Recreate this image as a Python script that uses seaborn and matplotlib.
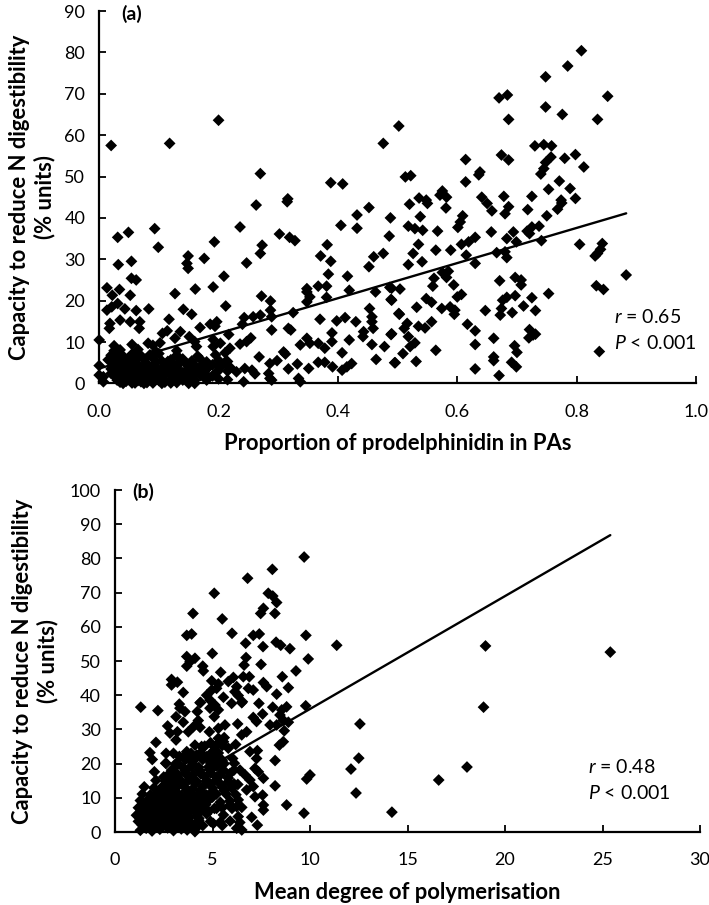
import matplotlib
matplotlib.use('Agg')
import matplotlib.pyplot as plt
import pandas as pd
import seaborn as sns

# Panel (a): scattered points
a_x_upper = [.02, .118, .2, .27, .316, .388, .408, .476, .502, .808, .785, .748, .852, .684, .67, .748, .776, .686, .835,
             .73, .745, .758, .674, .686, .614, .798, .78, .757, .748, .745, .74, .812, .638, .636, .513, .522, .614,
             .771, .753, .789, .575, .571, .582, .536, .548, .641, .678, .725, .774, .798]
a_y_upper = [57.5, 58, 63.6, 50.7, 44.6, 48.5, 48.2, 58, 62.2, 80.4, 76.7, 74.1, 69.4, 69.7, 69, 66.8, 65, 63.8, 63.8,
             57.4, 57.7, 57.4, 55.2, 54, 54.1, 55.3, 54.4, 54.7, 53.4, 51.9, 50.6, 52.3, 51.1, 50.4, 49.9, 50.2, 48.7,
             48.9, 46.9, 47.1, 46.5, 45.5, 45, 44.8, 44.3, 45, 45.2, 45.2, 44.3, 44.7]

a_x_right = [.52, .55, .581, .65, .658, .68, .686, .718, .75, .768, .775, .538, .609, .605, .601, .518, .529, .542, .567,
             .657, .694, .717, .725, .737, .721, .683, .699, .741, .63, .619, .607, .805, .843, .84, .835, .831,
             .535, .564, .589, .526, .541, .518, .666, .68, .615, .63, .683, .575, .585, .582, .561, .559, .594,
             .883, .671, .697, .707, .707, .833, .845, .753, .504, .49, .607, .6, .697, .683, .676, .725,
             .548, .557, .49, .532, .574, .588, .596, .595, .647, .674, .672, .711, .692, .731,
             .503, .516, .511, .535, .546, .557, .617, .63, .721, .727, .72, .731,
             .49, .518, .529, .521, .564, .63, .661, .696, .7, .509, .495, .531, .661, .661, .691, .699, .63, .67, .838]
a_y_right = [43.3, 43.5, 42.4, 43.5, 41.7, 41, 42.7, 42, 40.5, 42.1, 43.6, 40.3, 40.5, 39, 37.7, 38, 37.4, 37, 36.8,
             36.6, 36.6, 36.8, 37.8, 38, 36.2, 35, 34.2, 34.5, 35.3, 34.2, 33.6, 33.6, 33.8, 32.4, 31.4, 30.8,
             33.6, 32.2, 32.2, 31.4, 29.4, 28.7, 31.6, 31.8, 31, 29, 30.4, 26.8, 27.1, 25.6, 25.4, 23.5, 23.8,
             26.2, 24.8, 25.6, 25, 23.8, 23.6, 22.7, 21.7, 22.8, 23, 21.5, 20.9, 21.2, 20.8, 20.1, 20.7,
             20.5, 19.6, 20.1, 18.4, 18.1, 18.5, 17.7, 16.7, 17.6, 18.1, 16.5, 18.7, 17.1, 17.6,
             16.7, 14.5, 13.3, 13.8, 13.4, 14.9, 14.3, 12.7, 13, 11.7, 11, 11.9,
             12, 11.3, 9.8, 8.9, 8, 9.4, 10.9, 9.1, 7.5, 7.2, 5, 5.3, 6.4, 5.5, 5.1, 4, 3.5, 1.9, 7.7]

a_x_left = [.263, .315, .452, .432, .488, .049, .031, .093, .099, .236, .193, .302, .319, .328, .405, .432, .486,
            .273, .27, .382, .371, .388, .476, .46, .452, .149, .147, .149, .176, .032, .054, .247,
            .209, .384, .416, .054, .062, .191, .161, .013, .034, .127, .052, .022,
            .348, .348, .353, .348, .367, .381, .381, .419, .463, .487, .489,
            .272, .287, .287, .289, .212, .325, .453, .457, .457, .502,
            .031, .013, .021, .043, .062, .083, .141, .155, .117, .068, .018, .035, .017, .052, .067,
            .243, .258, .27, .24, .197, .186, .194, .169, .37, .398, .412, .43,
            .114, .106, .136, .127, .102, .082, .151, .16, .163, .217,
            .289, .317, .321, .39, .39, .443, .442, .459, .489, .419, .457, .478,
            .254, .247, .236, .191, .191, .219, .211, .203,
            .337, .348, .353, .367, .378, .309, .312, .407, .464, .496,
            .268, .298, .286, .332, .317, .351, .367, .378, .391, .423, .415, .407,
            .23, .244, .256, .261, .284, .286, .242, .334, .337, .289, 0, 0, 0, .007, .007]
a_y_left = [43.1, 43.9, 42.5, 40.7, 40, 36.5, 35.3, 37.4, 32.9, 37.8, 34.2, 36.1, 35.3, 34.5, 38.2, 37.5, 35.6,
            33.4, 31.4, 33.5, 30.8, 29.5, 31.4, 30.6, 28.2, 30.8, 29, 27.8, 30.2, 28.7, 29.5, 29.1,
            25.9, 26.4, 25.9, 25.4, 25, 23.3, 22.8, 23.1, 22.7, 21.7, 21.3, 21.3,
            22.9, 22.1, 20.9, 19.7, 23.5, 23.5, 20.8, 22.5, 22.1, 23.2, 20.3,
            21.1, 19.9, 17.7, 16.1, 18.7, 17.1, 18.1, 16.1, 14.9, 16.9,
            19.3, 17.7, 18.5, 18, 17.6, 18, 17.9, 16.7, 15.5, 14.9, 14.5, 15.3, 13.3, 14.9, 13.3,
            15.9, 16.1, 16.5, 14.3, 14.9, 14.3, 13.8, 13.5, 15.5, 15.1, 15.9, 14.9,
            12.7, 12.1, 12.5, 10.9, 9.8, 9.7, 11.3, 10.1, 8.9, 11.8,
            12.9, 13.3, 12.9, 12.2, 10.1, 12.5, 11.3, 13.3, 11.8, 10.5, 9.4, 8.9,
            11, 10.1, 9.5, 10.6, 8.9, 8.5, 7.4, 9.7,
            9.3, 10.9, 9.7, 9.7, 8.5, 7.6, 7.1, 7.4, 5.8, 5,
            6.4, 5.5, 4.8, 4.7, 3.5, 3.6, 5.1, 5.1, 4, 4.8, 4, 3.2,
            2.8, 3.6, 3.2, 2.3, 2.4, 1.2, .4, 1.2, .4, .8, 10.5, 4.3, 2, 1.6, .4]

# dense cluster near the origin
a_x_dense = [.025, .055, .09,
             .025, .035, .065, .095, .13,
             .02, .03, .04, .055, .07, .085, .1, .13, .165, .195,
             .015, .03, .04, .05, .06, .075, .09, .105, .12, .14, .17, .2, .215,
             .025, .035, .045, .055, .065, .08, .095, .11, .125, .145, .16, .175, .19, .205,
             .02, .03, .04, .05, .06, .07, .085, .1, .115, .13, .15, .165, .18, .2, .215,
             .02, .03, .04, .05, .065, .08, .095, .11, .125, .14, .16, .18, .195,
             .03, .04, .05, .06, .075, .09, .105, .125, .155,
             .035, .045, .06, .07, .08, .09, .11, .13,
             .03, .05, .07, .09, .11, .13,
             .025, .045, .065, .09, .105, .125, .145, .175,
             .025, .045, .06, .075, .09, .105, .12, .135, .15, .17, .19,
             .03, .05, .065, .08, .1, .12, .14, .16, .18,
             .04, .055, .075, .09, .105, .12, .15, .16,
             .115, .135, .155, .18, .21,
             .15, .17, .2, .22,
             .2, .215]
a_y_dense = [9.1, 9.4, 9.2,
             7.9, 8.1, 8.2, 7.7, 7.9,
             6.8, 7.0, 6.6, 7.1, 6.7, 6.9, 7.2, 6.8, 6.6, 6.9,
             5.7, 5.9, 5.5, 6.0, 5.6, 5.8, 6.1, 5.4, 5.7, 5.9, 5.8, 5.6, 5.3,
             4.6, 4.8, 4.4, 4.9, 4.5, 4.7, 5.0, 4.3, 4.6, 4.8, 4.4, 4.7, 4.5, 4.2,
             3.5, 3.7, 3.3, 3.8, 3.4, 3.6, 3.9, 3.2, 3.5, 3.7, 3.3, 3.6, 3.4, 3.1, 3.0,
             2.4, 2.6, 2.2, 2.7, 2.3, 2.5, 2.8, 2.1, 2.4, 2.6, 2.2, 2.0, 2.5,
             1.3, 1.5, 1.1, 1.6, 1.2, 1.4, 1.0, 1.3, .9,
             .3, .5, .1, .4, .2, .5, .3, .2,
             4.1, 4.2, 3.9, 4.0, 4.2, 4.1,
             3.0, 2.9, 3.1, 3.0, 2.8, 3.1, 2.9, 3.0,
             1.9, 2.0, 1.8, 1.9, 2.1, 1.8, 2.0, 1.9, 1.7, 1.9, 1.8,
             .8, .9, .7, .8, .7, .9, .8, .7, .8,
             0, .1, 0, .1, 0, .1, 0, 0,
             5.3, 5.1, 5.4, 5.2, 5.0,
             4.0, 3.9, 4.1, 3.8,
             1.1, .9]

a_line_x = [0, .883]
a_line_y = [3.6, 41.1]

# Panel (b)
b_x_upper = [9.7, 6.8, 5.09, 7.86, 8.09, 8.29, 7.61, 7.47, 8.2, 4, 5.5, 8.07,
             6, 7.09, 7.4, 9.79, 3.68, 3.93, 6.7, 8.26, 8.5, 11.37, 7.59, 8.97,
             4.99, 3.68, 4.1, 6.72, 9.91, 3.85, 3.68, 4.5, 4.53, 7.49, 6.62, 9.28,
             5.42, 2.9, 3.2, 2.9, 8.58, 6.89, 6.58, 6.07, 5.81, 4.96, 5.3, 5.21, 4.96,
             7.61, 7.78, 8.89, 6.24, 6.15, 6.84, 7.09, 3.5, 8.29, 4.7, 6.32, 5.56, 4.87, 4.39, 6.53,
             12.56, 12.5, 12.1, 12.36, 14.2, 16.6, 18.05, 19, 18.9, 25.4]
b_y_upper = [80.4, 74.2, 69.8, 69.8, 69, 67.1, 65.4, 63.9, 63.9, 63.9, 62.3, 76.8,
             58.1, 57.5, 57.9, 57.5, 57.5, 57.9, 55.2, 55.5, 54.6, 54.6, 54.2, 53.6,
             52.2, 51.3, 50.8, 51, 50.6, 49.8, 48.5, 48.5, 47.1, 49, 48.8, 47.1,
             46.7, 44.6, 43.8, 43, 45.4, 45.4, 45.4, 45.2, 44, 44.2, 43.3, 42, 41.5,
             43.7, 42.5, 42.2, 42.5, 41, 42, 41.5, 40.8, 40.3, 40, 39.9, 39.4, 38.6, 37.9, 38.1,
             31.6, 21.6, 18.4, 11.4, 5.8, 15.2, 19, 54.4, 36.5, 52.6]

b_x_mid = [1.32, 2.2, 3.3, 3.33, 3.13, 4.22, 3.59, 4.36, 5.13, 4.87, 5.09, 5.3, 5.98, 6.5, 7.38, 8.09, 8.55, 8.8, 9.78,
           7.57, 7.09, 7.26, 8.46, 8.63, 8.89, 7.95, 8.29, 8.68,
           2.7, 2.82, 3.5, 3.13, 3.2, 3.76, 4.03, 4.27, 4.36, 4.84, 5.3, 5.64, 6.29, 6.75, 6.5,
           2.1, 1.79, 1.91, 2.62, 2.62, 2.02, 3,
           8.63, 8.43, 6.19, 5.56, 5.3, 5.81, 5.13, 4.1, 3.68, 3.5, 4.44,
           6.92, 7.3, 7.26, 8.21, 6.03, 6.12, 4.7, 5.38, 4.19, 3.85,
           10, 9.83, 8.21, 8.8, 9.69, 7.61, 7.35, 7.18, 6.41, 6.67, 5.81, 5.56, 6.92, 7.09,
           7.57, 7.18, 7.61, 7.61, 7.01, 7.3, 6.32, 6.75, 6.24, 6.5, 5.5, 6.32, 6.24, 5.04, 5.21, 5.56, 5.9, 4.27, 4.1]
b_y_mid = [36.5, 35.5, 37.4, 36.2, 33.7, 35.2, 35.2, 37.8, 37.1, 36.2, 33.7, 35.7, 37.6, 37.8, 37.6, 36.5, 35.7, 36.6, 36.9,
           34.5, 33.5, 32.3, 34.2, 32.7, 32.1, 31.3, 31.3, 29.6,
           31, 28.9, 32.1, 26.9, 29.3, 29.3, 30.8, 32.6, 30.6, 29.3, 30.3, 31.3, 31.6, 29.3, 28.4,
           26.2, 23.2, 21.2, 23, 20.1, 17.6, 23,
           26.4, 25.4, 25.6, 26.4, 25.9, 24.5, 23.5, 25.4, 23.5, 22, 25,
           23.5, 23.8, 21.5, 20.9, 21.5, 20.1, 22, 21, 22.5, 21,
           16.7, 15.5, 13.5, 7.9, 5.5, 15.7, 17.6, 18.6, 18.1, 16.7, 14.7, 18.1, 15.2, 13.3,
           10.8, 10.3, 7.9, 6.4, 4.3, 2, 9.4, 12.3, 1.1, .6, 1.9, 4.5, 7.4, 2.5, 6.9, 5, 7.9, 1.8, .1]

b_x_dense = [1.3, 1.6, 1.9, 2.3, 2.7, 3.0, 3.4, 3.7, 4.1,
             1.2, 1.5, 1.8, 2.1, 2.4, 2.8, 3.1, 3.5, 3.9, 4.3,
             1.1, 1.4, 1.7, 2.0, 2.3, 2.6, 2.9, 3.3, 3.7, 4.2, 4.7,
             1.2, 1.5, 1.8, 2.2, 2.5, 2.9, 3.2, 3.6, 4.0, 4.5, 5.1,
             1.3, 1.6, 2.0, 2.4, 2.7, 3.1, 3.5, 3.9, 4.4, 4.8, 5.4, 5.9,
             1.4, 1.8, 2.2, 2.6, 3.0, 3.4, 3.8, 4.3, 4.7, 5.2,
             1.5, 2.0, 2.4, 2.8, 3.2, 3.6, 4.0, 4.5, 5.0, 5.5, 6.0,
             2.1, 2.6, 3.0, 3.4, 3.8, 4.2, 4.7, 5.2,
             2.8, 3.2, 3.6, 4.0, 4.4, 4.9, 5.4, 5.9,
             3.1, 3.5, 3.9, 4.3, 4.8, 5.2,
             3.6, 4.0, 4.5, 5.0, 5.5,
             3.9, 4.4, 4.9, 5.3,
             4.6, 5.1, 5.5,
             1.4, 1.75, 2.05, 2.45, 2.85, 3.25, 3.65, 4.0, 4.5,
             1.3, 1.6, 1.95, 2.25, 2.6, 3.0, 3.4, 3.8, 4.3,
             1.35, 1.7, 2.05, 2.4, 2.75, 3.1, 3.45, 3.85, 4.3, 4.8,
             1.45, 1.85, 2.2, 2.6, 3.0, 3.35, 3.75, 4.15, 4.65,
             1.9, 2.4, 2.85, 3.25, 3.65, 4.1, 4.55, 5.0,
             2.5, 3.1, 3.7, 4.4, 5.0, 5.6,
             3.0, 3.5, 4.1, 4.9, 5.45, 6.1,
             3.2, 3.95, 4.6, 5.2, 5.8,
             2.9, 3.6, 4.3, 4.9, 5.5, 6.1,
             3.2, 4.0, 4.9, 5.6,
             3.3, 4.2, 5.15,
             4.9, 5.4, 5.3, 5.6,
             4.9, 5.4, 5.9, 6.4,
             5.5, 6.0, 6.5,
             5.7, 6.2,
             2.5, 2.9,
             2.6, 3.1,
             5.9, 6.3]
b_y_dense = [.5, 1.1, .3, .8, 1.2, .4, .9, .6, 1.0,
             3.1, 2.7, 3.3, 2.9, 2.6, 3.2, 2.8, 3.0, 2.5, 3.4,
             4.9, 5.3, 4.7, 5.2, 4.8, 5.4, 5.0, 4.6, 5.1, 4.8, 5.3,
             7.1, 6.8, 7.3, 6.9, 7.2, 6.7, 7.0, 7.4, 6.8, 7.1, 6.9,
             9.2, 8.9, 9.1, 8.7, 9.3, 9.0, 8.8, 9.2, 8.9, 9.3, 8.7, 9.1,
             11.1, 10.8, 11.2, 10.9, 11.3, 10.7, 11.0, 11.2, 10.8, 11.1,
             13.2, 12.9, 13.1, 12.8, 13.3, 13.0, 12.7, 13.2, 12.9, 13.1, 12.8,
             15.1, 14.8, 15.2, 14.9, 15.3, 14.7, 15.0, 15.2,
             17.1, 16.9, 17.2, 16.8, 17.0, 17.3, 16.7, 17.1,
             19.1, 18.8, 19.2, 18.9, 19.0, 19.3,
             21.1, 20.9, 21.2, 20.8, 21.0,
             23.0, 23.2, 22.9, 23.1,
             25.1, 24.9, 25.3,
             2.0, 1.8, 2.1, 1.9, 2.2, 1.8, 2.0, 2.1, 1.9,
             4.1, 3.9, 4.2, 4.0, 3.8, 4.1, 3.9, 4.2, 4.0,
             6.1, 5.9, 6.2, 5.8, 6.0, 6.2, 5.9, 6.1, 5.8, 6.0,
             8.1, 7.9, 8.2, 7.8, 8.0, 8.1, 7.9, 8.2, 8.0,
             10.1, 9.9, 10.2, 9.8, 10.0, 10.1, 9.9, 10.2,
             12.1, 11.9, 12.2, 12.0, 11.8, 12.1,
             14.1, 13.9, 14.2, 14.0, 13.8, 14.1,
             16.1, 15.9, 16.2, 16.0, 15.8,
             18.1, 17.9, 18.2, 18.0, 17.8, 18.1,
             20.1, 19.9, 20.2, 20.0,
             22.1, 21.9, 22.0,
             26.1, 25.9, 27.4, 27.6,
             3.1, 2.9, 3.2, 2.8,
             7.1, 6.9, 7.2,
             11.1, 10.9,
             16.1, 15.9,
             20.1, 19.9,
             14.1, 13.9]

b_line_x = [1.1, 25.4]
b_line_y = [6.6, 86.8]

sns.set_theme(style='ticks')
plt.rcParams['font.family'] = ['Lato', 'DejaVu Sans']
plt.rcParams['mathtext.fontset'] = 'custom'
plt.rcParams['mathtext.it'] = 'Lato:italic'
plt.rcParams['mathtext.rm'] = 'Lato'

W, H = 709, 905
fig = plt.figure(figsize=(W / 100, H / 100), dpi=100, facecolor='white')


def make_axes(left, right, top, bottom):
    """Axes from pixel edges of the figure"""
    return fig.add_axes([left / W, 1 - bottom / H, (right - left) / W, (bottom - top) / H])


def draw_panel(ax, xs, ys, line_x, line_y, xlim, ylim, xticks, yticks, fmt, xlabel, label_x, tag, tag_pos, r_text, r_pos, p_pos):
    df = pd.DataFrame({'x': xs, 'y': ys})
    sns.scatterplot(data=df, x='x', y='y', ax=ax, marker='D', s=36, color='black',
                    edgecolor='none', linewidth=0, clip_on=False, zorder=3)
    sns.lineplot(x=line_x, y=line_y, ax=ax, color='black', linewidth=1.7, zorder=4, errorbar=None)
    ax.set_xlim(*xlim)
    ax.set_ylim(*ylim)
    ax.set_xticks(xticks)
    ax.set_xticklabels([fmt.format(t) for t in xticks])
    ax.set_yticks(yticks)
    ax.tick_params(direction='in', length=5, width=1.3, labelsize=13, colors='black')
    ax.tick_params(axis='x', pad=14.5)
    ax.tick_params(axis='y', pad=10)
    for side in ['top', 'right']:
        ax.spines[side].set_visible(False)
    for side in ['left', 'bottom']:
        ax.spines[side].set_linewidth(1.6)
        ax.spines[side].set_color('black')
    ax.set_xlabel(xlabel, fontsize=15.8, fontweight='bold', labelpad=10, color='black')
    ax.set_ylabel('Capacity to reduce N digestibility\n(% units)', fontsize=15.8, fontweight='bold',
                  color='black', linespacing=1.2)
    ax.yaxis.set_label_coords(label_x, .5)
    ax.text(tag_pos[0], tag_pos[1], tag, fontsize=14, fontweight='bold', ha='left', va='center', color='black')
    ax.text(r_pos[0], r_pos[1], r_text, fontsize=14, ha='left', va='center', color='black')
    ax.text(p_pos[0], p_pos[1], r'$\mathit{P}$ < 0.001', fontsize=14, ha='left', va='center', color='black')


ax_a = make_axes(99.2, 696, 11, 383.4)
draw_panel(ax_a, a_x_upper + a_x_right + a_x_left + a_x_dense, a_y_upper + a_y_right + a_y_left + a_y_dense,
           a_line_x, a_line_y, (0, 1), (0, 90), [0, .2, .4, .6, .8, 1.0], list(range(0, 100, 10)), '{:.1f}',
           'Proportion of prodelphinidin in PAs', -.074, '(a)', (.037, 89.3), r'$\mathit{r}$ = 0.65', (.862, 16), (.862, 9.7))

ax_b = make_axes(115, 700, 490, 832)
draw_panel(ax_b, b_x_upper + b_x_mid + b_x_dense, b_y_upper + b_y_mid + b_y_dense,
           b_line_x, b_line_y, (0, 30), (0, 100), list(range(0, 35, 5)), list(range(0, 110, 10)), '{:d}',
           'Mean degree of polymerisation', -.0974, '(b)', (.87, 99.4), r'$\mathit{r}$ = 0.48', (24.26, 19), (24.26, 11.4))

fig.savefig('out.png', dpi=100, facecolor='white')
